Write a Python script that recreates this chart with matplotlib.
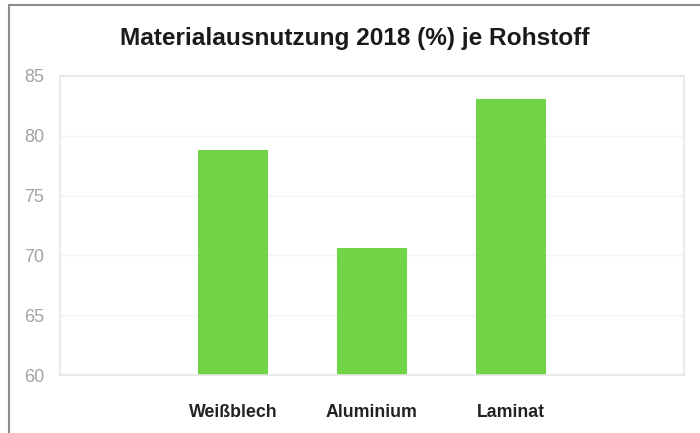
import matplotlib
matplotlib.use("Agg")
import matplotlib.pyplot as plt
from matplotlib.patches import Rectangle

categories = ["Weißblech", "Aluminium", "Laminat"]
values = [78.8, 70.6, 83.1]
yticks = [60, 65, 70, 75, 80, 85]
title = "Materialausnutzung 2018 (%) je Rohstoff"

plt.rcParams['font.family'] = ['Liberation Sans', 'DejaVu Sans']

W, H = 700, 433
fig = plt.figure(figsize=(W/100, H/100), dpi=100)
fig.patch.set_facecolor("white")

# outer frame (partially cropped)
fig.patches.append(Rectangle((9/W, -0.05), 1.2, (H-5)/H + 0.05, transform=fig.transFigure,
                             fill=False, edgecolor="#8c8c8c", linewidth=1.5, zorder=0))

ax = fig.add_axes([60/W, 1-375/H, (684-60)/W, (375-76)/H])
x = list(range(len(categories)))
ax.bar(x, [v - 60 for v in values], bottom=60, width=0.5, color="#71d346", zorder=2)
ax.set_ylim(60, 85)
ax.set_xlim(-1.245, 3.245)
ax.set_yticks(yticks)
ax.set_yticklabels([str(t) for t in yticks], color="#a3a3a3", fontsize=13)
ax.tick_params(axis="y", length=0, pad=11.5)
ax.tick_params(axis="x", length=0, pad=0)
ax.set_xticks([])
ax.grid(axis="y", color="#f3f3f3", linewidth=1, zorder=0)
for s in ax.spines.values():
    s.set_color("#e6e6e6")
    s.set_linewidth(1.2)

for xi, c in zip(x, categories):
    ax.text(xi, -0.125, c, transform=ax.get_xaxis_transform(), ha="center", va="center",
            fontsize=12.8, fontweight="bold", color="#222222")

fig.text(355/W, 1-38/H, title, ha="center", va="center", fontsize=17.6, fontweight="bold",
         color="#1a1a1a")

fig.savefig("out.png", dpi=100)
